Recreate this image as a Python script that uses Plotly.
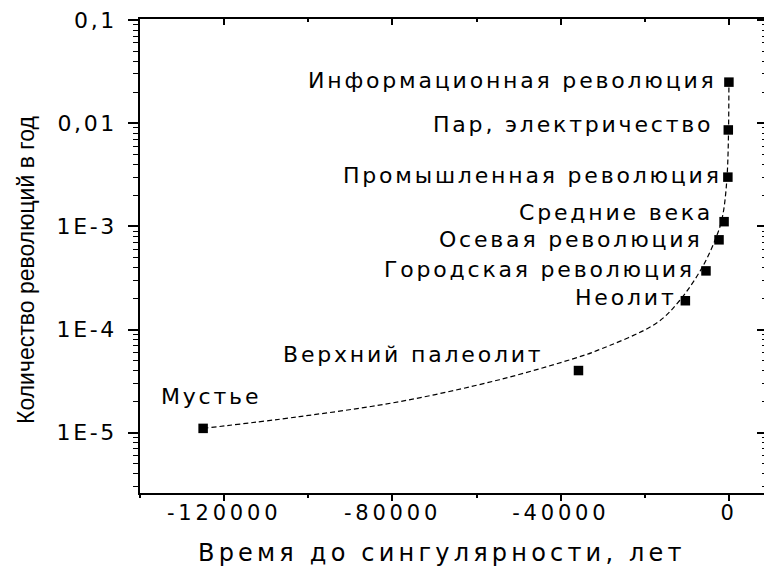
import math
import plotly.graph_objects as go

# revolutions: years before singularity vs. rate (revolutions per year)
nomes = ['Мустье', 'Верхний палеолит', 'Неолит', 'Городская революция',
         'Осевая революция', 'Средние века', 'Промышленная революция',
         'Пар, электричество', 'Информационная революция']
anos = [-125000, -35800, -10400, -5500, -2400, -1200, -300, -200, -50]
taxas = [1.1e-5, 4.0e-5, 1.9e-4, 3.7e-4, 7.4e-4, 1.11e-3, 3.0e-3, 8.6e-3, 0.025]

# dashed trend curve
ajuste_x = [-125000, -102100, -78300, -54600, -35800, -31600, -17300, -11800,
            -6400, -3100, -1650, -500, -50]
ajuste_y = [1.1e-5, 1.43e-5, 2.0e-5, 3.26e-5, 5.4e-5, 6.2e-5, 1.15e-4, 1.9e-4,
            4.0e-4, 7.8e-4, 1.2e-3, 3.0e-3, 0.025]

x_ticks = [-120000, -80000, -40000, 0]
x_tick_text = ['-120000', '-80000', '-40000', '0']
y_ticks = [1e-5, 1e-4, 1e-3, 0.01, 0.1]
y_tick_text = ['1E-5', '1E-4', '1E-3', '0,01', '0,1']
y_minor = [m * 10 ** d for d in range(-6, -1) for m in range(2, 10)]

# label placement (pixel offsets from the marker)
rotulos = {
    'Мустье': dict(xanchor='center', xshift=8, yshift=32),
    'Верхний палеолит': dict(xanchor='right', xshift=-33, yshift=16),
    'Неолит': dict(xanchor='right', xshift=-6, yshift=3),
    'Городская революция': dict(xanchor='right', xshift=-9, yshift=1),
    'Осевая революция': dict(xanchor='right', xshift=-15, yshift=0),
    'Средние века': dict(xanchor='right', xshift=-9, yshift=9),
    'Промышленная революция': dict(xanchor='right', xshift=-4, yshift=2),
    'Пар, электричество': dict(xanchor='right', xshift=-13, yshift=5),
    'Информационная революция': dict(xanchor='right', xshift=-10, yshift=2),
}

FONTE = 'DejaVu Sans'
x_range = [-140000, 9000]
y_range = [-5.585, -0.99]


def espacar(texto, px):
    """Texto com espaçamento entre letras (a figura original é larga)"""
    return f'<span style="letter-spacing:{px}px">{texto}</span>'


fig = go.Figure()

fig.add_trace(go.Scatter(
    x=ajuste_x, y=ajuste_y, mode='lines',
    line=dict(color='black', width=1.2, dash='5px,3px', shape='spline', smoothing=1),
    hoverinfo='skip', showlegend=False
))

fig.add_trace(go.Scatter(
    x=anos, y=taxas, mode='markers', text=nomes,
    marker=dict(symbol='square', size=9.5, color='black'),
    hovertemplate='%{text}<br>%{x}<br>%{y}<extra></extra>',
    showlegend=False
))

# invisible trace so the mirrored top/right axes get drawn
fig.add_trace(go.Scatter(
    x=anos, y=taxas, xaxis='x2', yaxis='y2', mode='markers',
    marker=dict(opacity=0), hoverinfo='skip', showlegend=False
))

for nome, ano, taxa in zip(nomes, anos, taxas):
    fig.add_annotation(
        x=ano, y=math.log10(taxa), text=espacar(nome, 2.8), showarrow=False,
        font=dict(family=FONTE, size=22, color='black'),
        yanchor='middle', **rotulos[nome]
    )

# axis titles as annotations so they sit where the original has them
fig.add_annotation(
    xref='paper', yref='paper', x=0.5, y=0, xanchor='center', yanchor='middle',
    xshift=-12, yshift=-60, showarrow=False,
    text=espacar('Время до сингулярности, лет', 4.2),
    font=dict(family=FONTE, size=24, color='black')
)
fig.add_annotation(
    xref='paper', yref='paper', x=0, y=0.5, xanchor='center', yanchor='middle',
    xshift=-114, yshift=-14, showarrow=False, textangle=-90,
    text='Количество революций в год',
    font=dict(family='Liberation Sans', size=23, color='black')
)

eixo_comum = dict(showgrid=False, zeroline=False, linecolor='black', linewidth=1.5,
                  tickcolor='black', tickwidth=1.5, automargin=False,
                  ticklabeloverflow='allow')

# page body has an 8px margin, so the figure is 8px smaller than the window
fig.update_layout(
    width=764, height=561,
    margin=dict(l=132, r=5, t=11, b=76),
    paper_bgcolor='white', plot_bgcolor='white',
    font=dict(family=FONTE, color='black'),
    xaxis=dict(
        **eixo_comum, range=x_range, showline=True, mirror=True,
        tickvals=x_ticks, ticktext=[espacar(t, 3.8) for t in x_tick_text],
        ticks='outside', ticklen=6,
        minor=dict(dtick=20000, ticks='outside', ticklen=3, tickcolor='black', tickwidth=1.5),
        tickfont=dict(size=21), ticklabelstandoff=-6
    ),
    yaxis=dict(
        **eixo_comum, type='log', range=y_range, showline=True, mirror=True,
        tickvals=y_ticks, ticktext=[espacar(t, 2.6) for t in y_tick_text],
        ticks='outside', ticklen=10,
        minor=dict(tickvals=y_minor, ticks='outside', ticklen=5,
                   tickcolor='black', tickwidth=1.2),
        tickfont=dict(size=22), ticklabelstandoff=7
    ),
    xaxis2=dict(
        **eixo_comum, overlaying='x', side='top', range=x_range, showline=False,
        tickvals=x_ticks, ticks='inside', ticklen=6, showticklabels=False,
        minor=dict(dtick=20000, ticks='inside', ticklen=3, tickcolor='black', tickwidth=1.5)
    ),
    yaxis2=dict(
        **eixo_comum, overlaying='y', side='right', type='log', range=y_range,
        showline=False, tickvals=y_ticks, ticks='inside', ticklen=10,
        showticklabels=False,
        minor=dict(tickvals=y_minor, ticks='inside', ticklen=5,
                   tickcolor='black', tickwidth=1.2)
    ),
)

fig.write_html('out.html')
